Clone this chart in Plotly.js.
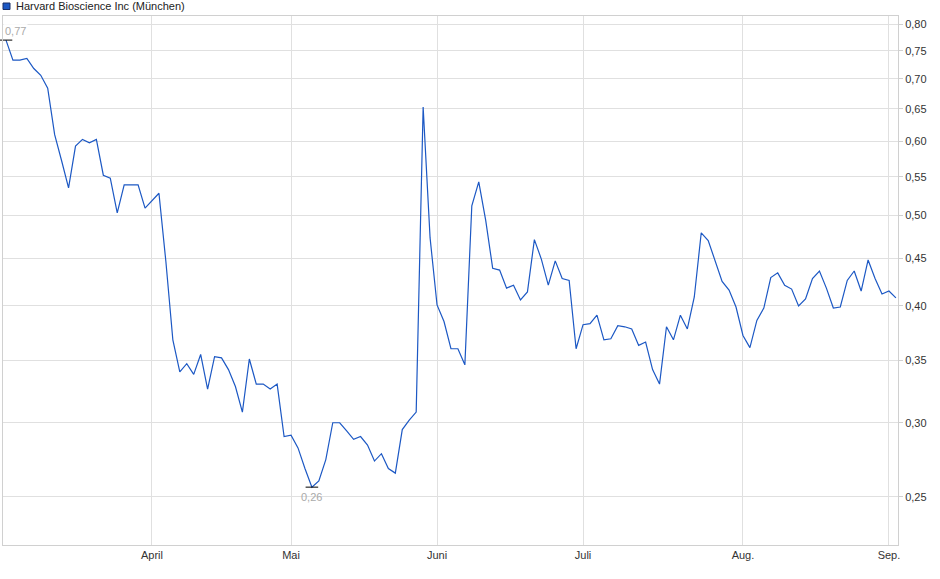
<!DOCTYPE html>
<html>
<head>
<meta charset="utf-8">
<script src="https://cdn.plot.ly/plotly-3.0.1.min.js"></script>
<style>
  html, body { margin: 0; padding: 0; background: #fff; }
  #chart { width: 940px; height: 579px; }
</style>
</head>
<body>
<div id="chart"></div>
<script>
// Trading days (Börse München), Mar 3 – Sep 2, 2025
const tradingDays = [
  "2025-03-03","2025-03-04","2025-03-05","2025-03-06","2025-03-07",
  "2025-03-10","2025-03-11","2025-03-12","2025-03-13","2025-03-14",
  "2025-03-17","2025-03-18","2025-03-19","2025-03-20","2025-03-21",
  "2025-03-24","2025-03-25","2025-03-26","2025-03-27","2025-03-28",
  "2025-03-31",
  "2025-04-01","2025-04-02","2025-04-03","2025-04-04",
  "2025-04-07","2025-04-08","2025-04-09","2025-04-10","2025-04-11",
  "2025-04-14","2025-04-15","2025-04-16","2025-04-17",
  "2025-04-22","2025-04-23","2025-04-24","2025-04-25",
  "2025-04-28","2025-04-29","2025-04-30",
  "2025-05-02",
  "2025-05-05","2025-05-06","2025-05-07","2025-05-08","2025-05-09",
  "2025-05-12","2025-05-13","2025-05-14","2025-05-15","2025-05-16",
  "2025-05-19","2025-05-20","2025-05-21","2025-05-22","2025-05-23",
  "2025-05-26","2025-05-27","2025-05-28","2025-05-29","2025-05-30",
  "2025-06-02","2025-06-03","2025-06-04","2025-06-05","2025-06-06",
  "2025-06-09","2025-06-10","2025-06-11","2025-06-12","2025-06-13",
  "2025-06-16","2025-06-17","2025-06-18","2025-06-19","2025-06-20",
  "2025-06-23","2025-06-24","2025-06-25","2025-06-26","2025-06-27",
  "2025-06-30",
  "2025-07-01","2025-07-02","2025-07-03","2025-07-04",
  "2025-07-07","2025-07-08","2025-07-09","2025-07-10","2025-07-11",
  "2025-07-14","2025-07-15","2025-07-16","2025-07-17","2025-07-18",
  "2025-07-21","2025-07-22","2025-07-23","2025-07-24","2025-07-25",
  "2025-07-28","2025-07-29","2025-07-30","2025-07-31",
  "2025-08-01",
  "2025-08-04","2025-08-05","2025-08-06","2025-08-07","2025-08-08",
  "2025-08-11","2025-08-12","2025-08-13","2025-08-14","2025-08-15",
  "2025-08-18","2025-08-19","2025-08-20","2025-08-21","2025-08-22",
  "2025-08-25","2025-08-26","2025-08-27","2025-08-28","2025-08-29",
  "2025-09-01","2025-09-02"
];

// Closing prices in EUR
const closes = [
  0.770, 0.733, 0.733, 0.736, 0.718, 0.706, 0.684, 0.610, 0.572, 0.535,
  0.593, 0.603, 0.598, 0.603, 0.552, 0.548, 0.503, 0.539, 0.539, 0.539,
  0.509,
  0.519, 0.528, 0.446, 0.368, 0.340, 0.347, 0.338, 0.355, 0.326, 0.353,
  0.352, 0.342, 0.328, 0.308, 0.351, 0.330, 0.330, 0.326, 0.330, 0.290,
  0.291, 0.282, 0.268, 0.256, 0.260, 0.274, 0.300, 0.300, 0.294, 0.288,
  0.290, 0.284, 0.273, 0.278, 0.268, 0.265, 0.295, 0.302, 0.308, 0.653,
  0.473,
  0.401, 0.385, 0.360, 0.360, 0.346, 0.512, 0.543, 0.494, 0.439, 0.437,
  0.418, 0.421, 0.406, 0.414, 0.471, 0.449, 0.421, 0.447, 0.428, 0.426,
  0.360,
  0.382, 0.383, 0.391, 0.368, 0.369, 0.381, 0.380, 0.378, 0.363, 0.366,
  0.342, 0.330, 0.380, 0.368, 0.391, 0.378, 0.409, 0.479, 0.470, 0.446,
  0.425, 0.416, 0.399,
  0.372, 0.361, 0.386, 0.398, 0.429, 0.434, 0.421, 0.417, 0.400, 0.407,
  0.428, 0.436, 0.418, 0.398, 0.399, 0.426, 0.436, 0.415, 0.448, 0.428,
  0.412,
  0.415, 0.408
];

const monthTickDays = ["2025-04-01", "2025-05-02", "2025-06-02", "2025-07-01", "2025-08-01", "2025-09-01"];
const monthTickText = ["April", "Mai", "Juni", "Juli", "Aug.", "Sep."];

const priceTicks = [0.25, 0.30, 0.35, 0.40, 0.45, 0.50, 0.55, 0.60, 0.65, 0.70, 0.75, 0.80];
const priceTickText = ["0,25", "0,30", "0,35", "0,40", "0,45", "0,50", "0,55", "0,60", "0,65", "0,70", "0,75", "0,80"];

const seriesName = "Harvard Bioscience Inc (München)";

const W = 940, H = 579;
const M = { l: 3, r: 42, t: 16, b: 34 };
const plotW = W - M.l - M.r;
const plotH = H - M.t - M.b;
// pixel -> paper helpers for the header decoration
const px = (x) => (x - M.l) / plotW;
const py = (y) => (H - M.b - y) / plotH;

const fmt = (v) => v.toFixed(2).replace(".", ",");

const iMax = closes.indexOf(Math.max(...closes));
const iMin = closes.indexOf(Math.min(...closes));

const lineColor = "#1c58c4";
const font = { family: "Liberation Sans, Arial, sans-serif", size: 11, color: "#333" };

const traces = [
  {
    x: tradingDays,
    y: closes,
    type: "scatter",
    mode: "lines",
    line: { color: lineColor, width: 1.2 },
    hoverinfo: "skip",
  },
  {
    x: [tradingDays[iMax], tradingDays[iMin]],
    y: [closes[iMax], closes[iMin]],
    type: "scatter",
    mode: "markers",
    marker: { symbol: "line-ew", size: 9, line: { color: "#000", width: 1 } },
    hoverinfo: "skip",
    cliponaxis: false,
  },
];

const layout = {
  width: W,
  height: H,
  margin: M,
  paper_bgcolor: "#fff",
  plot_bgcolor: "#fff",
  showlegend: false,
  font: font,
  xaxis: {
    type: "category",
    range: [-0.43, closes.length - 0.7],
    tickmode: "array",
    tickvals: monthTickDays,
    ticktext: monthTickText,
    ticks: "",
    showgrid: true,
    gridcolor: "#e0e0e0",
    gridwidth: 1,
    showline: true,
    linecolor: "#d0d0d0",
    linewidth: 1,
    mirror: true,
    zeroline: false,
    tickfont: font,
    fixedrange: true,
  },
  yaxis: {
    type: "log",
    side: "right",
    range: [Math.log10(0.222), Math.log10(0.8171)],
    tickmode: "array",
    tickvals: priceTicks,
    ticktext: priceTickText,
    ticks: "outside",
    ticklen: 4,
    tickcolor: "#d0d0d0",
    showgrid: true,
    gridcolor: "#e0e0e0",
    gridwidth: 1,
    showline: true,
    linecolor: "#d0d0d0",
    linewidth: 1,
    mirror: true,
    zeroline: false,
    tickfont: font,
    fixedrange: true,
  },
  shapes: [
    {
      type: "rect",
      xref: "paper",
      yref: "paper",
      x0: px(3), x1: px(10),
      y0: py(9.5), y1: py(3),
      fillcolor: lineColor,
      line: { color: "#1a2f66", width: 1 },
    },
  ],
  annotations: [
    {
      text: seriesName,
      xref: "paper",
      yref: "paper",
      x: px(14),
      y: py(6.5),
      xanchor: "left",
      yanchor: "middle",
      showarrow: false,
      font: { family: font.family, size: 11, color: "#222" },
    },
    {
      text: fmt(closes[iMax]),
      x: tradingDays[iMax],
      y: Math.log10(closes[iMax]),
      xanchor: "left",
      yanchor: "bottom",
      xshift: -3,
      yshift: 1,
      showarrow: false,
      bgcolor: "rgba(255,255,255,0.85)",
      font: { family: font.family, size: 11, color: "#aaa" },
    },
    {
      text: fmt(closes[iMin]),
      x: tradingDays[iMin],
      y: Math.log10(closes[iMin]),
      xanchor: "center",
      yanchor: "top",
      yshift: -2,
      showarrow: false,
      font: { family: font.family, size: 11, color: "#aaa" },
    },
  ],
};

Plotly.newPlot("chart", traces, layout, { displayModeBar: false, staticPlot: true });
</script>
</body>
</html>
